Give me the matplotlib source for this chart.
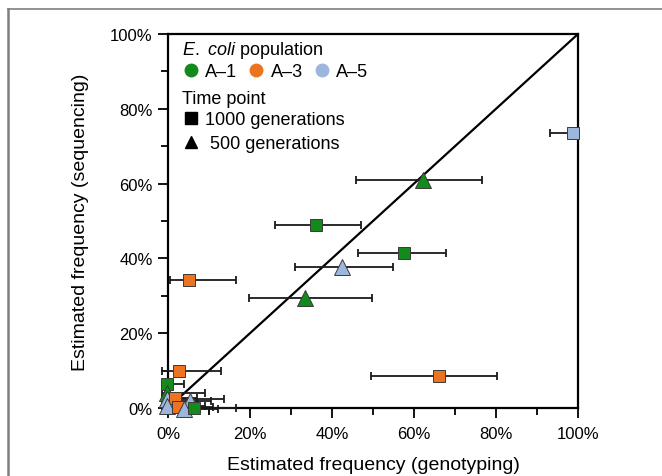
import matplotlib
matplotlib.use("Agg")
import matplotlib.pyplot as plt
from matplotlib.lines import Line2D
from matplotlib.ticker import MultipleLocator, FuncFormatter

plt.rcParams['font.family'] = ['Liberation Sans', 'DejaVu Sans']
plt.rcParams['mathtext.fontset'] = 'custom'
plt.rcParams['mathtext.rm'] = 'Liberation Sans'
plt.rcParams['mathtext.it'] = 'Liberation Sans:italic'

# one row per mutation: population, time point, genotyping estimate (with
# lower / upper bound of its interval) and sequencing estimate, all in %
population = ['A-5', 'A-1', 'A-1', 'A-1', 'A-5', 'A-3', 'A-1', 'A-3', 'A-3',
              'A-1', 'A-1', 'A-5', 'A-3', 'A-5', 'A-3', 'A-5', 'A-5', 'A-1']
timepoint = [1000, 500, 1000, 1000, 500, 1000, 500, 1000, 1000,
             1000, 500, 500, 1000, 500, 1000, 500, 500, 1000]
geno = [98.9, 62.1, 36.1, 57.6, 42.5, 5.0, 33.5, 66.0, 2.6,
        -0.3, -0.3, -0.3, 1.7, -0.3, 2.5, 5.3, 4.0, 6.3]
geno_lo = [93.2, 45.9, 26.2, 46.4, 30.9, 0.5, 19.8, 49.5, -1.5,
           -1.0, -1.5, -1.5, -1.0, -1.5, -1.0, 1.0, 0.0, 1.0]
geno_hi = [100.0, 76.6, 47.1, 67.9, 54.8, 16.7, 49.7, 80.2, 12.9,
           4.0, 8.9, 13.7, 7.0, 8.9, 11.0, 10.5, 12.2, 16.7]
seq = [73.4, 60.9, 48.9, 41.4, 37.8, 34.2, 29.4, 8.6, 9.8,
       6.5, 4.1, 2.4, 2.8, 0.6, 0.2, 1.8, -0.2, 0.0]

pop_names = ['A-1', 'A-3', 'A-5']
pop_labels = ['A\u20131', 'A\u20133', 'A\u20135']
pop_colors = ['#138a1c', '#ec7421', '#9db6dc']
time_points = [1000, 500]
time_labels = ['1000 generations', ' 500 generations']
time_markers = ['s', '^']

fig = plt.figure(figsize=(6.62, 4.77), dpi=100)
ax = fig.add_axes([0.2538, 0.1426, 0.6193, 0.784])

ax.plot([0, 100], [0, 100], color='black', lw=1.6, zorder=2)

color_of = dict(zip(pop_names, pop_colors))
marker_of = dict(zip(time_points, time_markers))

for i in range(len(geno)):
    xerr = [[geno[i] - geno_lo[i]], [geno_hi[i] - geno[i]]]
    ax.errorbar(geno[i], seq[i], xerr=xerr, fmt='none', ecolor='#1a1a1a',
                elinewidth=1.3, capsize=3, capthick=1.3, zorder=3, clip_on=False)
for i in range(len(geno)):
    m = marker_of[timepoint[i]]
    ax.plot(geno[i], seq[i], marker=m, ms=11 if m == '^' else 8.5,
            mfc=color_of[population[i]], mec='#3a3a3a', mew=0.7,
            ls='none', zorder=4, clip_on=False)

ax.set_xlim(0, 100)
ax.set_ylim(0, 100)
pct = FuncFormatter(lambda v, p: f'{v:.0f}%')
for axis in (ax.xaxis, ax.yaxis):
    axis.set_major_locator(MultipleLocator(20))
    axis.set_minor_locator(MultipleLocator(10))
    axis.set_major_formatter(pct)
ax.tick_params(which='major', direction='out', length=7, width=1.3,
               labelsize=12)
ax.tick_params(which='minor', direction='out', length=5, width=1.3)
ax.tick_params(axis='x', which='major', pad=6)
ax.tick_params(axis='y', which='major', pad=4)
for sp in ax.spines.values():
    sp.set_linewidth(1.6)

ax.set_xlabel('Estimated frequency (genotyping)', fontsize=14, labelpad=11)
ax.set_ylabel('Estimated frequency (sequencing)', fontsize=14, labelpad=15)

pop_handles = [Line2D([], [], marker='o', ls='none', ms=9, mfc=c, mec=c)
               for c in pop_colors]
leg1 = ax.legend(pop_handles, pop_labels,
                 title=r'$\it{E.}$ $\it{coli}$ population',
                 ncol=3, loc='upper left', bbox_to_anchor=(0.003, 1.02),
                 frameon=False, fontsize=13, title_fontsize=13,
                 handletextpad=0.3, columnspacing=0.55, handlelength=1.0,
                 labelspacing=0.2, borderaxespad=0.3, alignment='left')
leg1._legend_box.sep = 2
ax.add_artist(leg1)

time_handles = [Line2D([], [], marker=m, ls='none', ms=9, mfc='black', mec='black')
                for m in time_markers]
leg2 = ax.legend(time_handles, time_labels, title='Time point', loc='upper left',
                 bbox_to_anchor=(0.003, 0.885), frameon=False, fontsize=13,
                 title_fontsize=13, handletextpad=0.3, handlelength=1.0,
                 labelspacing=0.4, borderaxespad=0.3, alignment='left')
leg2._legend_box.sep = 3

# grey frame of the original panel
fig.add_artist(Line2D([0.012, 0.012], [0, 0.979], color='#7f7f7f', lw=1.8))
fig.add_artist(Line2D([0.012, 1], [0.979, 0.979], color='#7f7f7f', lw=1.2))

fig.savefig('out.png', dpi=100)
